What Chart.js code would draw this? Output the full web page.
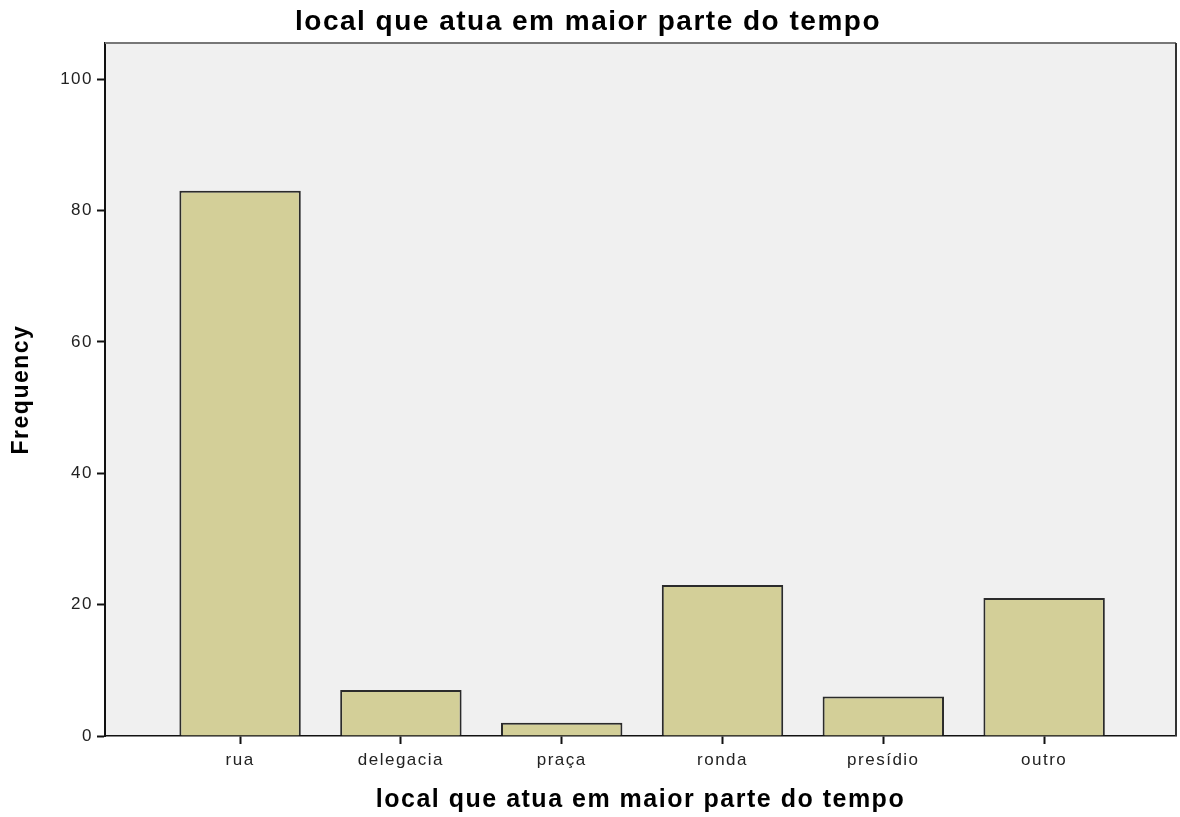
<!DOCTYPE html>
<html>
<head>
<meta charset="utf-8">
<script src="https://cdn.jsdelivr.net/npm/chart.js@4/dist/chart.umd.min.js"></script>
<style>
  html, body { margin: 0; padding: 0; background: #fff; }
  #wrap { width: 1180px; height: 817px; }
</style>
</head>
<body>
<div id="wrap"><canvas id="grafico"></canvas></div>
<script>
// dados
var categorias = ["rua", "delegacia", "praça", "ronda", "presídio", "outro"];
var frequencias = [83, 7, 2, 23, 6, 21];
var ticksY = [0, 20, 40, 60, 80, 100];
var titulo = "local que atua em maior parte do tempo";

var fundoPlot = {
  id: 'fundoPlot',
  beforeDraw: function (chart) {
    var a = chart.chartArea, ctx = chart.ctx;
    ctx.letterSpacing = '1.5px';
    ctx.save();
    ctx.fillStyle = '#f0f0f0';
    ctx.fillRect(a.left, a.top, a.right - a.left, a.bottom - a.top);
    ctx.restore();
  },
  afterDraw: function (chart) {
    var a = chart.ctx, c = chart.chartArea;
    a.save();
    a.lineWidth = 2;
    a.strokeStyle = '#777';
    a.beginPath();
    a.moveTo(c.left, c.top);
    a.lineTo(c.right, c.top);
    a.stroke();
    a.strokeStyle = '#333';
    a.beginPath();
    a.moveTo(c.right, c.top);
    a.lineTo(c.right, c.bottom);
    a.stroke();
    a.restore();
  }
};

var ctx = document.getElementById('grafico').getContext('2d');
var grafico = new Chart(ctx, {
  type: 'bar',
  data: {
    datasets: [{
      label: 'Frequency',
      data: frequencias.map(function (v, i) { return { x: i, y: v }; }),
      backgroundColor: '#d3cf98',
      borderColor: '#2b2b2b',
      borderWidth: 2,
      categoryPercentage: 1,
      barPercentage: 0.755
    }]
  },
  options: {
    responsive: true,
    maintainAspectRatio: false,
    animation: false,
    layout: { padding: { left: 0, right: 4, top: 0, bottom: 0 } },
    plugins: {
      legend: { display: false },
      tooltip: { enabled: false },
      title: {
        display: true,
        text: titulo,
        color: '#000',
        font: { family: 'Liberation Sans, Arial, sans-serif', size: 28, weight: 'bold' },
        padding: { top: 5, bottom: 4.5 }
      }
    },
    scales: {
      x: {
        type: 'linear',
        offset: false,
        min: -0.84,
        max: 5.82,
        afterBuildTicks: function (s) {
          s.ticks = categorias.map(function (_, i) { return { value: i }; });
        },
        afterFit: function (s) { s.height = 81; },
        ticks: {
          color: '#222',
          font: { family: 'Liberation Sans, Arial, sans-serif', size: 17 },
          padding: 6,
          maxRotation: 0,
          autoSkip: false,
          callback: function (v) { return categorias[v]; }
        },
        grid: { offset: false, drawOnChartArea: false, drawTicks: true, tickLength: 8, tickColor: '#111', tickWidth: 2 },
        border: { display: true, color: '#111', width: 1.5 },
        title: {
          display: true,
          text: titulo,
          color: '#000',
          font: { family: 'Liberation Sans, Arial, sans-serif', size: 25, weight: 'bold' },
          padding: { top: 0, bottom: 2 }
        }
      },
      y: {
        min: 0,
        max: 105.5,
        afterBuildTicks: function (s) {
          s.ticks = ticksY.map(function (v) { return { value: v }; });
        },
        afterFit: function (s) { s.width = 105; },
        ticks: {
          color: '#222',
          font: { family: 'Liberation Sans, Arial, sans-serif', size: 17 },
          padding: 4
        },
        grid: { drawOnChartArea: false, drawTicks: true, tickLength: 8, tickColor: '#111', tickWidth: 2 },
        border: { display: true, color: '#111', width: 2 },
        title: {
          display: true,
          text: 'Frequency',
          color: '#000',
          font: { family: 'Liberation Sans, Arial, sans-serif', size: 23, weight: 'bold' },
          padding: { top: 8, bottom: 0 }
        }
      }
    }
  },
  plugins: [fundoPlot]
});
</script>
</body>
</html>
